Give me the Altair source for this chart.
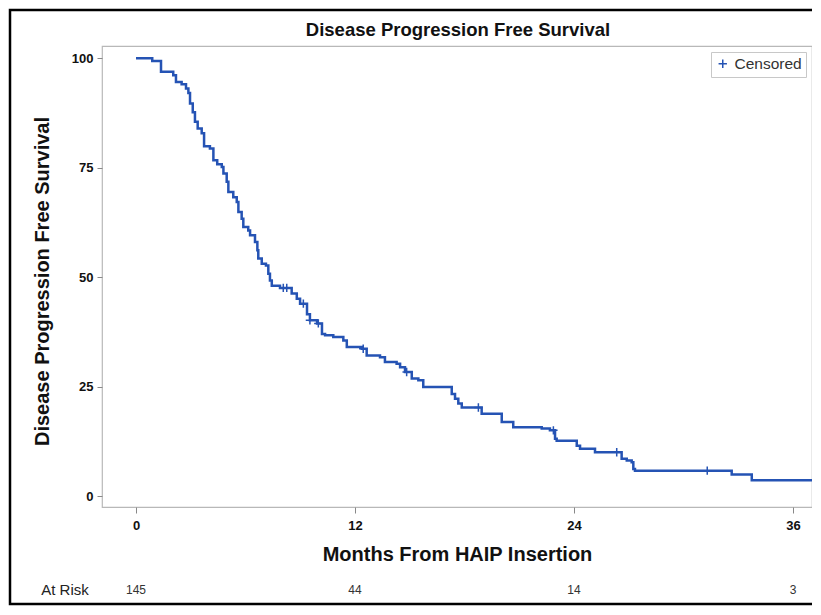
import altair as alt
import pandas as pd

# Kaplan-Meier step curve (months, % progression-free)
months = [0, 0.89, 1.37, 2.04, 2.19, 2.50, 2.74, 2.87, 2.96, 3.11, 3.23, 3.38, 3.60, 3.73,
          4.05, 4.24, 4.45, 4.70, 4.79, 4.97, 5.06, 5.33, 5.52, 5.61, 5.79, 5.88, 6.15,
          6.25, 6.52, 6.65, 6.70, 6.89, 7.12, 7.25, 7.34, 7.44, 7.89, 8.53, 8.81, 8.99,
          9.37, 9.53, 9.92, 10.19, 10.36, 10.81, 11.36, 11.55, 12.37, 12.64, 13.37, 13.64,
          14.28, 14.47, 14.74, 15.11, 15.47, 15.74, 17.30, 17.48, 17.66, 17.85, 18.94,
          20.04, 20.67, 22.23, 22.68, 22.96, 23.05, 24.15, 24.33, 25.15, 26.61, 26.89,
          27.16, 27.25, 27.34, 32.64, 33.74, 37.04]
survival = [100, 99.4, 96.9, 96.1, 94.6, 94.1, 93.1, 92.1, 89.7, 87.7, 85.5, 84.0, 82.9,
            79.9, 79.4, 76.7, 75.8, 75.2, 73.7, 71.8, 69.5, 68.3, 67.2, 64.9, 63.4, 61.5,
            60.7, 59.6, 58.1, 56.2, 54.3, 53.1, 52.7, 50.8, 49.3, 48.1, 47.6, 46.3, 45.1,
            44.0, 41.6, 40.2, 39.5, 37.1, 36.8, 36.4, 35.6, 34.1, 33.7, 32.2, 31.8, 30.7,
            30.3, 29.5, 28.4, 26.9, 26.5, 25.0, 23.4, 22.3, 21.2, 20.3, 18.9, 17.0, 15.8,
            15.5, 15.1, 13.2, 12.7, 11.6, 10.9, 10.1, 8.6, 8.2, 7.8, 6.3, 5.9, 5.0, 3.7, 3.7]

# Censored observations
censor_months = [8.07, 8.26, 9.17, 9.53, 9.99, 12.45, 14.83, 18.76, 22.87, 26.34, 31.30]
censor_surv = [47.6, 47.6, 44.0, 40.2, 39.5, 33.7, 28.4, 20.3, 15.1, 10.1, 5.9]

# Number at risk
risk_months = [0, 12, 24, 36]
risk_counts = ["145", "44", "14", "3"]

TITLE = "Disease Progression Free Survival"
BLUE = "#2553b4"
FONT = "Liberation Sans"

curve_df = pd.DataFrame({"month": months, "surv": survival})
cens_df = pd.DataFrame({"month": censor_months, "surv": censor_surv,
                        "label": ["Censored"] * len(censor_months)})
risk_df = pd.DataFrame({"month": risk_months, "n": risk_counts})

xscale = alt.Scale(domain=[-1.863, 37.04], nice=False, zero=False)
yscale = alt.Scale(domain=[-2.4, 102.8], nice=False, zero=False)

xaxis = alt.Axis(values=[0, 12, 24, 36], title="Months From HAIP Insertion",
                 labelFontWeight="bold", labelFontSize=13, labelFont=FONT,
                 labelColor="#111", tickSize=6, tickColor="#888", domain=False,
                 labelPadding=6, titleFont=FONT, titleFontSize=20,
                 titleFontWeight="bold", titleColor="#111", titlePadding=12, grid=False)
yaxis = alt.Axis(values=[0, 25, 50, 75, 100], title=TITLE,
                 labelFontWeight="bold", labelFontSize=13, labelFont=FONT,
                 labelColor="#111", tickSize=5, tickColor="#888", domain=False,
                 labelPadding=4, titleFont=FONT, titleFontSize=20,
                 titleFontWeight="bold", titleColor="#111", titlePadding=19,
                 titleY=235, grid=False)

line = alt.Chart(curve_df).mark_line(interpolate="step-after", color=BLUE,
                                     strokeWidth=2.5).encode(
    x=alt.X("month:Q", scale=xscale, axis=xaxis),
    y=alt.Y("surv:Q", scale=yscale, axis=yaxis),
)

cens = alt.Chart(cens_df).mark_point(shape="M-1,0H1M0,-1V1", filled=False, size=70,
                                     strokeWidth=1.5, opacity=1).encode(
    x=alt.X("month:Q", scale=xscale),
    y=alt.Y("surv:Q", scale=yscale),
    color=alt.Color("label:N", scale=alt.Scale(range=[BLUE]),
                    legend=alt.Legend(title=None, orient="top-right", offset=6,
                                      strokeColor="#c8c8c8", fillColor="white",
                                      padding=4, labelFont=FONT, labelFontSize=15.5,
                                      labelColor="#333", symbolType="M-1,0H1M0,-1V1",
                                      symbolSize=70, symbolStrokeWidth=1.5,
                                      symbolStrokeColor=BLUE)),
)

risk = alt.Chart(risk_df).mark_text(font=FONT, fontSize=12, color="#333",
                                    baseline="middle").encode(
    x=alt.X("month:Q", scale=xscale),
    y=alt.value(544),
    text="n:N",
)

risk_label = alt.Chart(pd.DataFrame({"t": ["At Risk"]})).mark_text(
    font=FONT, fontSize=15, color="#222", baseline="middle").encode(
    x=alt.value(-37), y=alt.value(544), text="t:N")

title = alt.Chart(pd.DataFrame({"t": [TITLE]})).mark_text(
    font=FONT, fontSize=18.5, fontWeight="bold", color="#111",
    baseline="alphabetic").encode(
    x=alt.value(356), y=alt.value(-10.5), text="t:N")

frame = alt.Chart(pd.DataFrame({"t": [0]})).mark_rect(
    fillOpacity=0, stroke="black", strokeWidth=2.5).encode(
    x=alt.value(-92), x2=alt.value(740), y=alt.value(-36), y2=alt.value(558))

chart = alt.layer(frame, line, cens, risk, risk_label, title).properties(
    width=710, height=461,
    padding={"left": 94, "top": 38, "right": 0, "bottom": 100},
    autosize=alt.AutoSizeParams(type="none"),
).configure_view(stroke="#b8b8b8", strokeWidth=1.2)

chart.save("out.html", embed_options={"renderer": "svg", "actions": False})
